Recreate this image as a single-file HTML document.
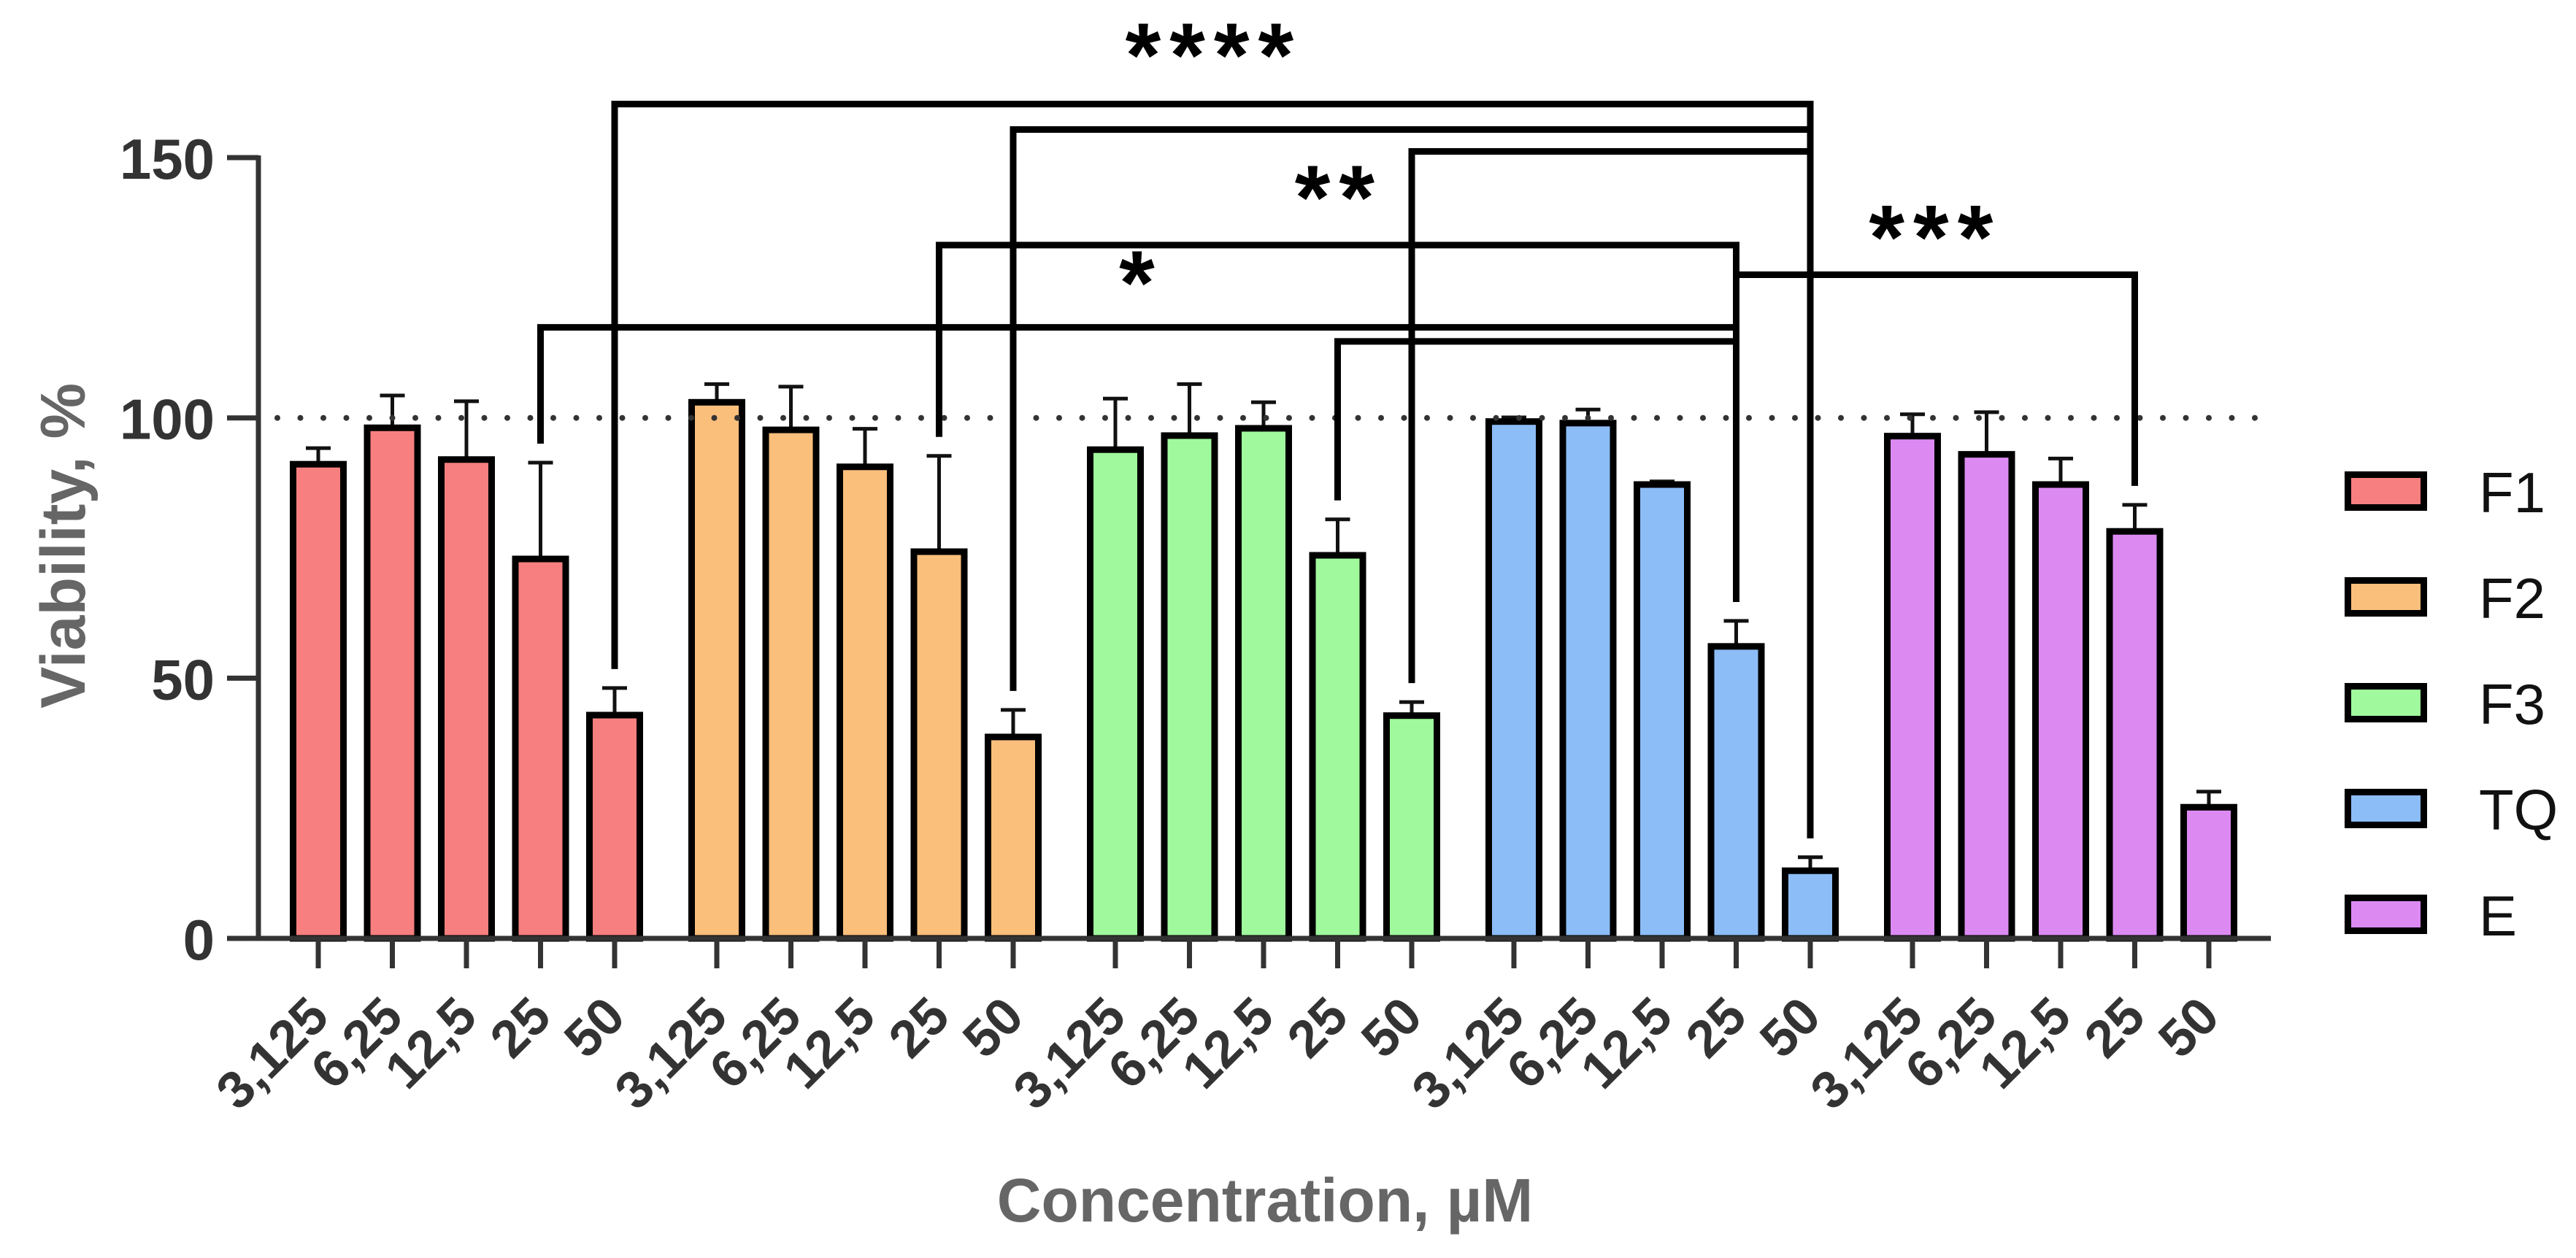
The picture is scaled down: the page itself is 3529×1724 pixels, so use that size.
<!DOCTYPE html>
<html><head><meta charset="utf-8"><style>
html,body{margin:0;padding:0;background:#fff;}
svg{display:block;}
text{font-family:"Liberation Sans",Arial,sans-serif;}
</style></head>
<body>
<svg id="chart" xmlns="http://www.w3.org/2000/svg" width="3529" height="1724" viewBox="0 0 3529 1724">
<g id="bars"></g>
<g id="axes"></g>
<g id="brackets"></g>
<g id="legend"></g>
<text transform="translate(116,748) rotate(-90)" text-anchor="middle" font-size="86" font-weight="bold" fill="#666">Viability, %</text>
<text x="1733" y="1674" text-anchor="middle" font-size="84" font-weight="bold" fill="#666">Concentration, µM</text>
</svg>
<script>
const groups = ["F1","F2","F3","TQ","E"];
const concentrations = ["3,125","6,25","12,5","25","50"];
const colors = ["#F77F7F","#FBBF7C","#A0F99C","#8CBDF6","#DC8AF2"];
const meanF1 = [91.1, 98.1, 92.0, 72.9, 42.9];
const meanF2 = [103.0, 97.7, 90.6, 74.3, 38.7];
const meanF3 = [93.9, 96.6, 98.0, 73.6, 42.8];
const meanTQ = [99.3, 99.0, 87.2, 56.1, 13.0];
const meanE  = [96.5, 93.0, 87.2, 78.2, 25.2];
const sdF1 = [3.1, 6.2, 11.2, 18.5, 5.2];
const sdF2 = [3.5, 8.3, 7.3, 18.4, 5.2];
const sdF3 = [9.8, 9.9, 5.0, 6.9, 2.6];
const sdTQ = [0.8, 2.6, 0.6, 4.9, 2.6];
const sdE  = [4.2, 8.1, 5.0, 5.1, 3.0];
const yTicks = [0, 50, 100, 150];
const refLine = 100;
const bracketLevels = [
  [0,4,3,4,160.3],[1,4,3,4,155.4],[2,4,3,4,151.2],
  [1,3,3,3,133.2],[0,3,3,3,117.4],[2,3,3,3,114.7],[3,3,4,3,127.5]
];
const starLabels = ["****","**","*","***"];
const starValues = [168.5, 141.2, 124.8, 133.5];
const starCenters = [[2,1.27],[2,2.96],[2,0.29],[4,0.25]];

const means=[meanF1,meanF2,meanF3,meanTQ,meanE];
const sds=[sdF1,sdF2,sdF3,sdTQ,sdE];
const NS="http://www.w3.org/2000/svg";
const y0=1286, pxPerUnit=7.133;
function yScale(v){return y0 - v*pxPerUnit;}
function xScale(g,c){return 436 + g*546 + c*101.5;}
function mk(tag,attrs,parent){const e=document.createElementNS(NS,tag);for(const k in attrs)e.setAttribute(k,attrs[k]);parent.appendChild(e);return e;}

const barsG=document.getElementById('bars');
const axesG=document.getElementById('axes');
const brG=document.getElementById('brackets');
const legG=document.getElementById('legend');

const ref=mk('line',{x1:380,x2:3100,y1:yScale(refLine),y2:yScale(refLine),stroke:'#333','stroke-width':8,'stroke-dasharray':'0 31.5','stroke-linecap':'round'},axesG);



groups.forEach((gname,g)=>{
  concentrations.forEach((cname,c)=>{
    const x=xScale(g,c), m=means[g][c], s=sds[g][c];
    const err=mk('line',{x1:x,x2:x,y1:yScale(m),y2:yScale(m+s),stroke:'#111','stroke-width':5},barsG);
    
    
    const cap=mk('line',{x1:x-17,x2:x+17,y1:yScale(m+s),y2:yScale(m+s),stroke:'#111','stroke-width':5},barsG);
    
    
    const r=mk('rect',{x:x-34.5,y:yScale(m),width:69,height:y0-yScale(m),fill:colors[g],stroke:'#000','stroke-width':9},barsG);
    
    
    const t=mk('line',{x1:x,x2:x,y1:y0,y2:1327,stroke:'#333','stroke-width':7},axesG);
    
    
    const lb=mk('text',{transform:`translate(${x+18},1397) rotate(-45)`,'text-anchor':'end','font-size':72,'font-weight':'bold',fill:'#333'},axesG);
    lb.textContent=cname;
    
    
  });
});

const ya=mk('line',{x1:354,x2:354,y1:yScale(150)-3,y2:y0+3,stroke:'#333','stroke-width':7},axesG);


const xa=mk('line',{x1:350,x2:3111,y1:y0,y2:y0,stroke:'#333','stroke-width':7},axesG);


yTicks.forEach(v=>{
  const t=mk('line',{x1:311,x2:354,y1:yScale(v),y2:yScale(v),stroke:'#333','stroke-width':7},axesG);
  
  
  const l=mk('text',{x:294,y:yScale(v)+29,'text-anchor':'end','font-size':78,'font-weight':'bold',fill:'#333'},axesG);
  l.textContent=v;
  
  
});

bracketLevels.forEach((b,i)=>{
  const [ga,ca,gb,cb,lv]=b;
  const xa1=xScale(ga,ca), xb1=xScale(gb,cb), yy=yScale(lv);
  const ta=yScale(means[ga][ca]+sds[ga][ca])-26, tb=yScale(means[gb][cb]+sds[gb][cb])-26;
  const p=mk('path',{d:`M${xa1},${ta} V${yy} H${xb1} V${tb}`,fill:'none',stroke:'#000','stroke-width':9},brG);
  
  
});
starLabels.forEach((s,i)=>{
  const [g,c]=starCenters[i];
  const t=mk('text',{x:xScale(g,c)+6,y:yScale(starValues[i])+35,'text-anchor':'middle','font-size':125,'font-weight':'bold','letter-spacing':12,fill:'#000'},brG);
  t.textContent=s;
  
  
});

groups.forEach((gname,g)=>{
  const ty=646+g*145;
  const sw=mk('rect',{x:3216.5,y:ty+4.5,width:104,height:45,fill:colors[g],stroke:'#000','stroke-width':9},legG);
  
  
  const t=mk('text',{x:3396,y:ty+56,'font-size':78,fill:'#111'},legG);
  t.textContent=gname;
  
  
});
</script>
</body></html>
